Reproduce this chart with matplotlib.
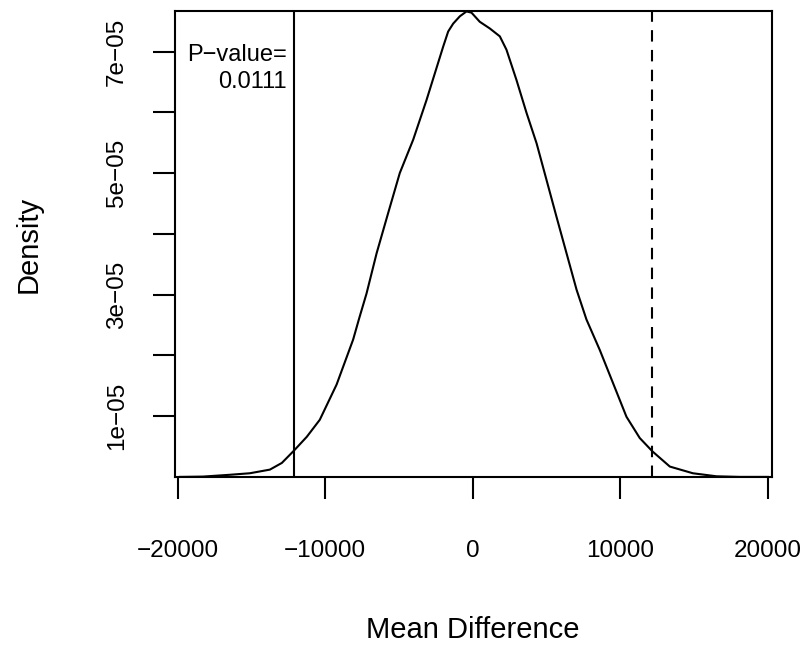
import numpy as np
import matplotlib.pyplot as plt

plt.rcParams['font.family'] = ['Liberation Sans', 'DejaVu Sans']

# density curve of the permuted mean differences
diff_x = [-19850, -18290, -16460, -15110, -13750, -12940, -12130, -11250, -10370,
          -9230, -8110, -7700, -7200, -6520, -5740, -4950, -4040, -3140, -2010,
          -1670, -1330, -880, -430, -90, 470, 1150, 1830, 2280, 2960, 3640, 4320,
          4990, 5670, 6350, 7030, 7700, 8600, 9490, 10410, 11310, 12170, 13350,
          14910, 16510, 18090, 20000]
density = [0.0, 0.005, 0.035, 0.06, 0.12, 0.23, 0.43, 0.66, 0.94,
           1.52, 2.26, 2.61, 3.02, 3.68, 4.34, 5.00, 5.55, 6.20, 7.08,
           7.33, 7.46, 7.58, 7.66, 7.64, 7.49, 7.38, 7.25, 7.03, 6.53, 5.99, 5.49,
           4.89, 4.28, 3.68, 3.08, 2.59, 2.09, 1.55, 0.99, 0.64, 0.42, 0.17,
           0.06, 0.01, 0.0, 0.0]
density = np.array(density) * 1e-5

observed = 12140
p_value = "0.0111"

x_ticks = [-20000, -10000, 0, 10000, 20000]
y_ticks = [1e-5, 2e-5, 3e-5, 4e-5, 5e-5, 6e-5, 7e-5]
y_labels = ['1e\u221205', '', '3e\u221205', '', '5e\u221205', '', '7e\u221205']

fig = plt.figure(figsize=(8.04, 6.5), dpi=100)
ax = fig.add_axes([0.2173, 0.2663, 0.7425, 0.7175])

ax.plot(diff_x, density, color='black', lw=1.5, solid_joinstyle='round')
ax.axvline(-observed, color='black', lw=1.5)
ax.axvline(observed, color='black', lw=1.5, ls=(0, (5.5, 4)))

ax.set_xlim(-20200, 20250)
ax.set_ylim(0, 7.675e-5)

ax.set_xticks(x_ticks)
ax.set_xticklabels(['\u221220000', '\u221210000', '0', '10000', '20000'])
ax.set_yticks(y_ticks)
ax.set_yticklabels(y_labels, rotation=90, va='center')
ax.tick_params(axis='both', length=15.5, width=1.5, labelsize=17.5)
ax.tick_params(axis='x', pad=30)
ax.tick_params(axis='y', pad=18)
for s in ax.spines.values():
    s.set_linewidth(1.5)

ax.text(-12620, 6.72e-5, "P\u2212value=\n" + p_value, ha='right', va='center',
        fontsize=17, linespacing=1.25)

fig.text(0.5886, 0.0308, 'Mean Difference', ha='center', va='center', fontsize=21)
fig.text(0.036, 0.6246, 'Density', ha='center', va='center', rotation=90, fontsize=21)

fig.savefig('out.png', dpi=100)
